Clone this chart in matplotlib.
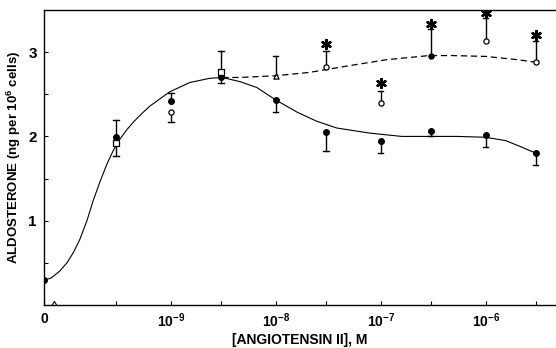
import numpy as np
import matplotlib
matplotlib.use("Agg")
import matplotlib.pyplot as plt

plt.rcParams.update({
    "font.family": ["Liberation Sans", "DejaVu Sans"],
    "font.weight": "bold",
    "axes.labelweight": "bold",
    "mathtext.fontset": "custom",
    "mathtext.rm": "Liberation Sans:bold",
    "mathtext.default": "rm",
})

# ── data ──
X_ZERO = -10.21          # where the "0" dose sits on the log axis
doses_log = [None, -9.523, -9.0, -8.523, -8.0, -7.523, -7.0, -6.523, -6.0, -5.523]

filled_mean = [0.29, 1.99, 2.42, 2.71, 2.43, 2.05, 1.95, 2.07, 2.02, 1.80]
filled_err  = [0.00, 0.21, 0.10, 0.08, 0.14, 0.22, 0.15, 0.07, 0.14, 0.14]
filled_dir  = [0, 1, 1, -1, -1, -1, -1, -1, -1, -1]

open_mean   = [1.92, 2.29, 2.77, 2.72, 2.83, 2.40, 2.96, 3.13, 2.88]
open_err    = [0.15, 0.12, 0.25, 0.24, 0.18, 0.14, 0.32, 0.28, 0.25]
open_dir    = [-1, -1, 1, 1, 1, 1, 1, 1, 1]
open_marker = ["s", "o", "s", "^", "o", "o", "o", "o", "o"]
open_filled = [False, False, False, False, False, False, True, False, False]

star_idx = [4, 5, 6, 7, 8]          # index into open series
star_y   = [3.10, 2.63, 3.33, 3.47, 3.21]

solid_x = [-10.21, -10.14, -10.06, -9.99, -9.93, -9.87, -9.80, -9.74, -9.67, -9.61,
           -9.55, -9.49, -9.42, -9.35, -9.27, -9.20, -9.10, -9.01, -8.82, -8.63,
           -8.51, -8.34, -8.18, -8.01, -7.80, -7.61, -7.42, -7.11, -6.80, -6.54,
           -6.27, -6.00, -5.81, -5.69, -5.52]
solid_y = [0.29, 0.32, 0.40, 0.50, 0.62, 0.77, 1.00, 1.24, 1.48, 1.67,
           1.83, 1.96, 2.08, 2.18, 2.28, 2.36, 2.45, 2.53, 2.64, 2.69,
           2.70, 2.65, 2.58, 2.44, 2.29, 2.18, 2.10, 2.04, 2.00, 2.00,
           2.00, 1.99, 1.95, 1.89, 1.80]

dashed_x = [-8.51, -8.34, -8.01, -7.68, -7.30, -6.95, -6.54, -6.32, -6.00, -5.69, -5.52]
dashed_y = [2.70, 2.70, 2.72, 2.76, 2.84, 2.91, 2.96, 2.96, 2.95, 2.91, 2.88]

xtick_pos    = [X_ZERO, -9, -8, -7, -6]
xtick_labels = ["0", "10$^{-9}$", "10$^{-8}$", "10$^{-7}$", "10$^{-6}$"]

# ── figure ──
fig = plt.figure(figsize=(5.56, 3.48), dpi=100)
ax = fig.add_axes([0.079, 0.124, 0.921, 0.847])

fx = [X_ZERO] + doses_log[1:]
ox = doses_log[1:]

ax.plot(solid_x, solid_y, color="black", lw=0.8, zorder=2)
ax.plot(dashed_x, dashed_y, color="black", lw=0.9, dashes=(5, 3), zorder=2)

cap = 0.025
def err_bar(x, y, e, d):
    if e <= 0:
        return
    end = y + d * e
    ax.plot([x, x], [y, end], color="black", lw=1.0, zorder=3)
    ax.plot([x - cap, x + cap], [end, end], color="black", lw=1.0, zorder=3)

for x, y, e, d in zip(fx, filled_mean, filled_err, filled_dir):
    err_bar(x, y, e, d)
ax.scatter(fx, filled_mean, s=16, color="black", zorder=4)

for x, y, e, d, m, f in zip(ox, open_mean, open_err, open_dir, open_marker, open_filled):
    err_bar(x, y, e, d)
    ax.scatter([x], [y], s=14, marker=m, facecolor="black" if f else "white",
               edgecolor="black", linewidths=0.9, zorder=5)

ax.scatter([ox[i] for i in star_idx], star_y, s=40, marker=(6, 2, 0),
           color="black", linewidths=1.8, zorder=5)

# little axis-break mark near zero
ax.plot([-10.13, -10.11, -10.09], [0.0, 0.04, 0.0], color="black", lw=0.8,
        clip_on=False, zorder=6)

ax.set_xlim(X_ZERO, -5.33)
ax.set_ylim(0, 3.5)

ax.set_xticks(xtick_pos)
ax.set_xticklabels(xtick_labels, fontsize=10)
ax.set_xticks([-9.523, -8.523, -7.523, -6.523, -5.523], minor=True)
ax.set_yticks([1, 2, 3])
ax.set_yticklabels(["1", "2", "3"], fontsize=11)
ax.set_yticks([0.5, 1.5, 2.5], minor=True)
ax.tick_params(which="both", direction="in", length=3, width=0.8)
ax.tick_params(axis="x", pad=5)
ax.tick_params(axis="y", pad=5)

ax.spines["right"].set_visible(False)
for s in ("left", "bottom", "top"):
    ax.spines[s].set_linewidth(1.0)

ax.set_xlabel("[ANGIOTENSIN II], M", fontsize=10, labelpad=2)
ax.set_ylabel("ALDOSTERONE (ng per 10$^{6}$ cells)", fontsize=9.5, labelpad=4)

fig.savefig("out.png", dpi=100)
